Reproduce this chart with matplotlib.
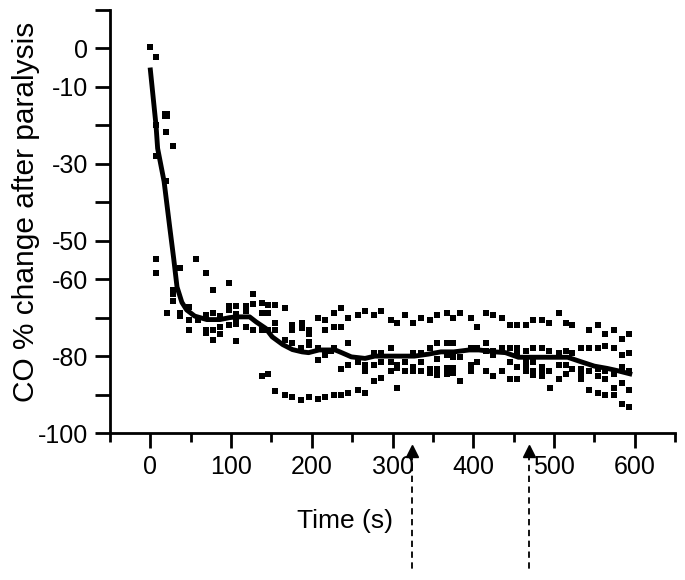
import matplotlib
matplotlib.use("Agg")
import matplotlib.pyplot as plt
import matplotlib.transforms as mtransforms

plt.rcParams['font.family'] = ['Liberation Sans', 'DejaVu Sans']
plt.rcParams['axes.unicode_minus'] = False

# individual samples (time in s, CO % change)
sample_time = [
    0, 7, 7, 19, 28, 7, 19,
    7, 7, 37, 57, 69, 97, 77,
    28, 28, 28, 20, 37, 37, 48, 48, 48,
    59, 69, 69, 69, 77, 77, 77, 86, 86, 86,
    97, 97, 97, 106, 106, 106, 106, 106,
    118, 118, 118, 127, 127, 127,
    138, 138, 138, 146, 146, 146,
    155, 155, 155, 167, 167, 176, 176, 176,
    188, 188, 187,
    138, 146, 155, 167, 176, 187, 196,
    196, 196, 196, 196,
    208, 216, 216, 228, 236, 228, 236, 245, 257, 266, 277, 286, 298, 306,
    315, 326, 335, 347, 355, 367, 375, 384,
    208, 208, 216, 224, 228, 236, 245, 245, 257, 266, 266, 277, 277, 277,
    286, 286, 286, 298, 298, 298, 306, 306, 306, 315, 315, 326, 326, 326,
    335, 335, 335, 347, 347, 347, 355, 355, 355, 355, 367, 367, 367, 367,
    375, 375, 375, 375, 384, 384,
    208, 216, 228, 236, 245, 257, 266,
    397, 405, 416, 424, 436, 445, 454, 465, 474, 485, 494, 506, 515, 523,
    544, 554, 563, 575, 584, 593,
    397, 397, 397, 405, 405, 416, 416, 416, 424, 424, 424, 436, 436,
    445, 445, 445, 454, 454, 454, 454, 465, 465, 465, 465,
    474, 474, 474, 474, 485, 485, 485, 485, 494, 494, 495,
    506, 506, 506, 515, 515, 515, 523, 523, 534, 534, 534, 534,
    544, 544, 544, 554, 554, 554, 554, 563, 563, 563, 563,
    575, 575, 575, 575, 584, 584, 584, 584, 593, 593, 593, 593,
]
sample_change = [
    0.3, -2.3, -20, -21.8, -25.4, -28, -34.5,
    -54.7, -58.4, -57.2, -54.7, -58.4, -60.9, -62.7,
    -62.7, -63.8, -65.7, -68.8, -68.8, -69.6, -67.2, -70.5, -73.1,
    -70.5, -69.4, -73.1, -74.1, -68.8, -73.1, -75.7, -69.6, -72.4, -74.3,
    -67.1, -67.9, -72, -67.1, -69, -70.5, -71.7, -76.1,
    -67.1, -68.3, -72.4, -63.8, -66.4, -73.1,
    -66.2, -68.8, -73.1, -66.8, -68.8, -73.3,
    -66.8, -71.3, -73.3, -67.5, -75.7, -72, -73.3, -76.7,
    -71.4, -72.6, -77.8,
    -85.3, -84.6, -89, -90.1, -90.7, -91.4, -90.7,
    -73.3, -74.3, -76.3, -77.1,
    -70, -70.7, -73.1, -68.8, -67.5, -72.4, -72.4, -70, -69.4, -68.3, -69.4, -68.3, -70.7, -71.3,
    -69.4, -71.3, -70, -70.7, -69.4, -68.8, -70, -68.8,
    -80.9, -78, -79.7, -78.6, -78, -83.4, -76.5, -82.3, -81.5, -82.3, -84, -79.1, -82.3, -86.4,
    -79.1, -81.5, -85.8, -78, -81.5, -84, -88.3, -82.3, -83.2, -81.5, -83.8, -79.1, -82.9, -84,
    -79.1, -81.5, -84, -78, -83.4, -84.3, -76.7, -80.8, -83.4, -84.9, -76.7, -79.7, -83.2, -84.6,
    -76.7, -80.3, -83.2, -84.5, -80.3, -86.4,
    -91.2, -90.7, -90.1, -90.1, -89.5, -88.8, -89.5,
    -70, -72.4, -68.8, -69.4, -70, -71.8, -71.8, -71.8, -70.7, -70.7, -71.3, -68.8, -71.3, -71.8,
    -73.1, -71.8, -74.3, -73.1, -75.6, -74.3,
    -78, -82.3, -84, -78, -81.5, -76.7, -78.6, -84, -78.6, -79.7, -85.3, -78, -84,
    -78, -81.5, -86, -78, -78.9, -82.9, -86, -78.6, -81.5, -82.3, -84,
    -78, -81.5, -84, -84.9, -78, -82.9, -83.6, -85.3, -78.6, -84, -88.3,
    -79.1, -82.3, -86, -78.6, -82.3, -84.6, -79.1, -83.4, -78, -83.4, -84.3, -86,
    -78, -84, -88.8, -78, -83.4, -85.3, -89.5, -77.4, -84, -86, -90.1,
    -78, -84.6, -88.3, -90.1, -79.7, -82.9, -87, -92.4, -79.1, -84, -88.8, -93.2,
]

# one larger sample near the start
big_time = [19]
big_change = [-17.2]

# mean curve
mean_time = [0, 7, 9, 17, 24, 29, 33, 39, 45, 55, 70, 86, 98, 106, 123, 131, 143,
             151, 164, 176, 188, 196, 209, 229, 237, 249, 266, 278, 307, 327,
             344, 360, 376, 395, 407, 427, 440, 456, 481, 517, 534, 550, 566,
             579, 594]
mean_change = [-5.6, -20, -26, -34.6, -46.5, -54.8, -62, -66, -68, -69.6, -70.5,
               -70.5, -70.0, -69.8, -69.8, -71.1, -72.8, -75, -77, -78.3, -78.9,
               -79.1, -78.4, -78.4, -79.1, -80.2, -80.6, -80, -80, -80, -79.5,
               -78.9, -78.9, -78.4, -78.4, -78.9, -79.1, -80.3, -80.3, -80.3,
               -81.5, -82.6, -83.2, -83.8, -84.6]

# marked time points (arrows under the axis)
arrow_times = [324, 469]

y_ticks = [-100, -90, -80, -70, -60, -50, -40, -30, -20, -10, 0, 10]
y_labels = ['-100', '', '-80', '', '-60', '-50', '', '-30', '', '-10', '0', '']
x_ticks = [0, 100, 200, 300, 400, 500, 600]
x_minor = [-50, 50, 150, 250, 350, 450, 550, 650]

fig = plt.figure(figsize=(6.85, 5.8), dpi=100)
ax = fig.add_axes([0.1606, 0.2534, 0.8248, 0.7294])

ax.scatter(sample_time, sample_change, marker='s', s=13, color='black',
           linewidths=0, zorder=2)
ax.scatter(big_time, big_change, marker='s', s=36, color='black',
           linewidths=0, zorder=2)
ax.plot(mean_time, mean_change, color='black', linewidth=3.5,
        solid_joinstyle='round', zorder=3)

ax.set_xlim(-50, 650)
ax.set_ylim(-100, 10)

for side in ['top', 'right']:
    ax.spines[side].set_visible(False)
for side in ['left', 'bottom']:
    ax.spines[side].set_linewidth(2)

ax.set_yticks(y_ticks)
ax.set_yticklabels(y_labels)
ax.set_xticks(x_ticks)
ax.set_xticklabels([str(t) for t in x_ticks])
ax.set_xticks(x_minor, minor=True)
ax.tick_params(axis='both', which='major', direction='out', length=11,
               width=2, labelsize=18, pad=5)
ax.tick_params(axis='x', which='minor', direction='out', length=6.5, width=2)

ax.set_xlabel('Time (s)', fontsize=19)
ax.xaxis.set_label_coords(0.416, -0.208)
ax.xaxis.label.set_va('center')
ax.set_ylabel('CO % change after paralysis', fontsize=21.5)
ax.yaxis.set_label_coords(-0.148, 0.522)
ax.yaxis.label.set_va('center')

# dashed arrows below the time axis
trans = mtransforms.blended_transform_factory(ax.transData, ax.transAxes)
for t in arrow_times:
    ax.plot([t, t], [-0.05, -0.33], transform=trans, color='black',
            linewidth=1.3, linestyle=(0, (3.5, 2.5)), clip_on=False)
    ax.plot([t], [-0.042], transform=trans, marker='^', markersize=8,
            color='black', linewidth=0, clip_on=False)

fig.savefig('out.png', dpi=100)
